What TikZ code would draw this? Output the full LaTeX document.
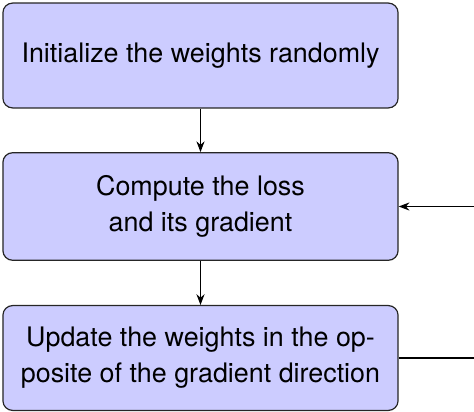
\documentclass[tikz,border=0pt]{standalone}
\usepackage{fontspec}
\setmainfont{TeX Gyre Heros}
\usetikzlibrary{arrows.meta}
\tikzset{
  stepbox/.style={draw=black!85, fill=blue!20, rounded corners=3.6pt, line width=0.45pt,
    minimum width=147pt, minimum height=39pt, align=center, inner sep=0pt,
    font=\fontsize{10}{13.4}\selectfont},
  flow/.style={draw=black, line width=0.4pt, -{Stealth[length=4pt,width=3pt]}}
}
\begin{document}
\begin{tikzpicture}[x=0.372pt, y=-0.372pt]
  \useasboundingbox (0,0) rectangle (474,412);
  \node[stepbox] (init) at (200.5,55.5) {Initialize the weights randomly};
  \node[stepbox, minimum height=40pt] (loss) at (200.5,206.5) {Compute the loss\\and its gradient};
  \node[stepbox] (upd) at (200.5,358) {Update the weights in the op-\\posite of the gradient direction};
  \coordinate (backin) at (474,206.5);
  \coordinate (backout) at (474,358);
  \draw[flow] (init) -- (loss);
  \draw[flow] (loss) -- (upd);
  \draw[line width=0.4pt] (upd.east) -- (backout);
  \draw[flow] (backin) -- (loss.east);
\end{tikzpicture}
\end{document}
